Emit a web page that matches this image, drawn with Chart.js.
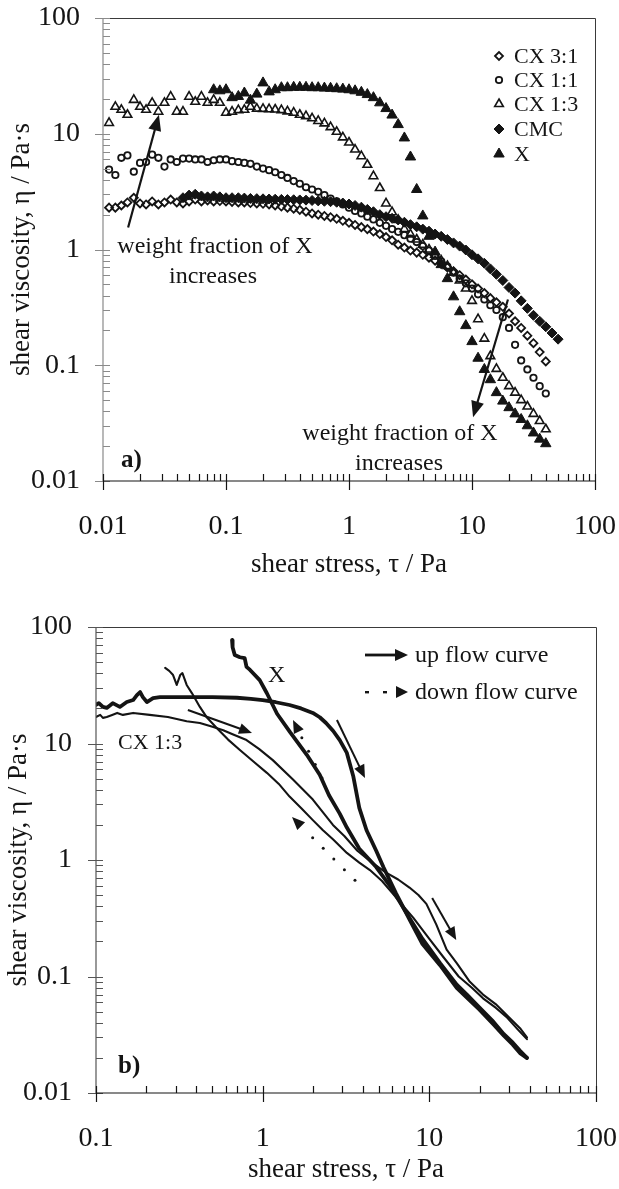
<!DOCTYPE html>
<html>
<head>
<meta charset="utf-8">
<title>shear viscosity vs shear stress</title>
<script src="https://cdn.jsdelivr.net/npm/chart.js@4.4.1/dist/chart.umd.min.js"></script>
<style>
  html, body { margin: 0; padding: 0; background: #fff; }
  canvas { display: block; }
</style>
</head>
<body>
<canvas id="chartA" width="619" height="590"></canvas>
<canvas id="chartB" width="619" height="599"></canvas>
<script>
// ---------- a) flow curves, one marker per measured point ----------
const stressA = [
  0.0100, 0.0112, 0.0126, 0.0141, 0.0158, 0.0178, 0.0200, 0.0224, 0.0251, 0.0282,
  0.0316, 0.0355, 0.0398, 0.0447, 0.0501, 0.0562, 0.0631, 0.0708, 0.0794, 0.0891,
  0.100, 0.112, 0.126, 0.141, 0.158, 0.178, 0.200, 0.224, 0.251, 0.282,
  0.316, 0.355, 0.398, 0.447, 0.501, 0.562, 0.631, 0.708, 0.794, 0.891,
  1.00, 1.12, 1.26, 1.41, 1.58, 1.78, 2.00, 2.24, 2.51, 2.82,
  3.16, 3.55, 3.98, 4.47, 5.01, 5.62, 6.31, 7.08, 7.94, 8.91,
  10.0, 11.2, 12.6, 14.1, 15.8, 17.8, 20.0, 22.4, 25.1, 28.2,
  31.6, 35.5, 39.8, 44.7, 50.1
];
const etaCX31 = [
  null, 2.3, 2.3, 2.4, 2.55, 2.8, 2.5, 2.45, 2.6, 2.45,
  2.55, 2.7, 2.55, 2.5, 2.6, 2.7, 2.6, 2.65, 2.6, 2.62,
  2.6, 2.58, 2.55, 2.55, 2.52, 2.5, 2.48, 2.45, 2.4, 2.35,
  2.3, 2.25, 2.2, 2.12, 2.05, 2.0, 1.95, 1.9, 1.84, 1.77,
  1.7, 1.63, 1.56, 1.5, 1.43, 1.36, 1.28, 1.2, 1.1, 1.04,
  0.98, 0.94, 0.9, 0.85, 0.8, 0.75, 0.70, 0.65, 0.6, 0.55,
  0.5, 0.46, 0.42, 0.38, 0.35, 0.32, 0.28, 0.24, 0.21, 0.18,
  0.155, 0.13, 0.108, null, null
];
const etaCX11 = [
  null, 4.9, 4.4, 6.2, 6.5, 4.7, 5.6, 5.7, 6.6, 6.2,
  5.2, 6.0, 5.7, 6.1, 6.1, 6.0, 6.0, 5.7, 5.9, 6.0,
  6.0, 5.8, 5.7, 5.6, 5.5, 5.2, 5.0, 4.85, 4.65, 4.4,
  4.15, 3.9, 3.7, 3.45, 3.3, 3.15, 2.95, 2.75, 2.6, 2.45,
  2.3, 2.15, 2.05, 1.92, 1.82, 1.7, 1.6, 1.5, 1.42, 1.33,
  1.24, 1.16, 1.07, 0.98, 0.88, 0.79, 0.71, 0.63, 0.56, 0.51,
  0.46, 0.41, 0.37, 0.33, 0.3, 0.26, 0.21, 0.15, 0.11, 0.092,
  0.078, 0.066, 0.057, null, null
];
const etaCX13 = [
  null, 12.4, 17.1, 16.1, 14.6, 19.6, 17.1, 16.1, 18.5, 15.5,
  18.5, 20.9, 15.5, 15.5, 20.9, 18.9, 20.9, 18.5, 19.6, 18.5,
  15.2, 15.5, 16.0, 16.1, 17.1, 16.5, 16.4, 16.3, 16.2, 16.0,
  15.6, 15.2, 14.6, 14.2, 13.6, 12.9, 12.3, 11.4, 10.4, 9.3,
  8.4, 7.3, 6.4, 5.4, 4.3, 3.4, 2.5, 2.1, 1.8, 1.5,
  1.35, 1.22, 1.1, 1.0, 0.9, 0.8, 0.72, 0.63, 0.54, 0.46,
  0.36, 0.25, 0.17, 0.12, 0.093, 0.078, 0.066, 0.058, 0.05, 0.044,
  0.038, 0.033, 0.028, null, null
];
const etaCMC = [
  null, null, null, null, null, null, null, null, null, null,
  null, null, null, 2.8, 2.95, 3.0, 2.9, 2.85, 2.9, 2.85,
  2.8, 2.8, 2.8, 2.78, 2.76, 2.75, 2.74, 2.73, 2.72, 2.71,
  2.7, 2.69, 2.68, 2.67, 2.65, 2.63, 2.61, 2.59, 2.56, 2.52,
  2.47, 2.4, 2.32, 2.22, 2.12, 2.0, 1.92, 1.86, 1.8, 1.72,
  1.64, 1.57, 1.5, 1.44, 1.36, 1.3, 1.22, 1.14, 1.07, 0.99,
  0.9, 0.83, 0.76, 0.68, 0.61, 0.54, 0.47, 0.42, 0.36, 0.31,
  0.27, 0.24, 0.215, 0.19, 0.168
];
const etaX = [
  null, null, null, null, null, null, null, null, null, null,
  null, null, null, null, null, null, null, null, 24, 23.5,
  24, 20.5, 21, 22.5, 19.5, 22, 27.5, 23, 24, 25,
  25, 25.2, 25.2, 25.2, 25, 25, 24.8, 24.7, 24.5, 24.3,
  24, 23.5, 22.8, 21.8, 20.5, 18.5, 16.5, 14.5, 12, 9.2,
  6.3, 3.3, 1.95, 1.3, 0.95, 0.74, 0.56, 0.39, 0.29, 0.22,
  0.16, 0.115, 0.092, 0.075, 0.058, 0.049, 0.043, 0.038, 0.034, 0.03,
  0.026, 0.023, 0.021, null, null
];
const seriesA = ['CX 3:1', 'CX 1:1', 'CX 1:3', 'CMC', 'X'];

// ---------- b) up and down flow curves (continuous records) ----------
const stressXUp = [0.100, 0.104, 0.110, 0.116, 0.126, 0.139, 0.153, 0.167, 0.176, 0.184,
  0.191, 0.202, 0.220, 0.242, 0.266, 0.35, 0.50, 0.70, 0.85, 1.00,
  1.20, 1.45, 1.70, 2.00, 2.20, 2.40, 2.65, 2.90, 3.20, 3.50,
  3.80, 4.20, 4.80, 5.30, 6.30, 7.60, 9.10, 11.6, 14.6, 16.8,
  20.0, 24.2, 28.0, 31.7, 35.0, 38.5];
const etaXUp = [21.5, 22.2, 20.6, 20.2, 22.2, 20.6, 22.7, 23.6, 26.0, 27.6,
  25.0, 22.7, 24.5, 25.0, 25.0, 25.0, 25.0, 24.7, 24.2, 23.6,
  22.6, 21.4, 20.0, 18.3, 16.8, 15.0, 12.8, 10.7, 8.3, 5.2,
  2.8, 1.8, 1.2, 0.87, 0.52, 0.31, 0.19, 0.125, 0.08, 0.066,
  0.052, 0.039, 0.031, 0.026, 0.022, 0.020];
const stressXDown = [0.655, 0.66, 0.68, 0.73, 0.78, 0.80, 0.84, 0.96, 1.06, 1.22,
  1.46, 1.84, 2.2, 2.5, 2.9, 3.2, 3.8, 4.8, 5.8, 7.3,
  9.1, 11.6, 14.6, 16.8, 20.0, 24.2, 28.0, 31.7, 35.0, 38.5];
const etaXDown = [77, 67, 57.5, 55, 54, 45.5, 42.8, 35, 27, 18,
  12.5, 8.0, 5.4, 3.6, 2.5, 1.9, 1.25, 0.87, 0.6, 0.35,
  0.21, 0.13, 0.085, 0.07, 0.054, 0.041, 0.032, 0.027, 0.023, 0.02];
const stressCXUp = [0.100, 0.106, 0.110, 0.116, 0.125, 0.134, 0.145, 0.167, 0.21, 0.27,
  0.35, 0.42, 0.50, 0.58, 0.66, 0.80, 0.95, 1.15, 1.52, 2.0,
  2.64, 3.1, 3.7, 4.4, 5.5, 6.5, 7.6, 8.6, 9.6, 11.0,
  12.7, 14.6, 17.5, 21.0, 25.0, 29.0, 35.0, 38.5];
const etaCXUp = [16.9, 17.6, 16.6, 16.9, 17.6, 18.3, 17.6, 18.3, 17.6, 16.9,
  15.5, 15.0, 13.9, 13.0, 12.0, 10.7, 9.0, 7.2, 4.9, 3.3,
  2.0, 1.6, 1.2, 0.98, 0.78, 0.68, 0.58, 0.5, 0.42, 0.28,
  0.17, 0.13, 0.09, 0.07, 0.058, 0.047, 0.036, 0.030];
const stressCXDown = [0.26, 0.275, 0.29, 0.305, 0.32, 0.33, 0.35, 0.376, 0.42, 0.46,
  0.53, 0.62, 0.73, 0.88, 1.06, 1.25, 1.45, 1.7, 2.0, 2.3,
  2.65, 3.2, 3.8, 4.4, 5.2, 6.0, 7.0, 8.0, 10.0, 12.0,
  15.0, 18.0, 21.0, 25.0, 29.0, 34.0, 38.5];
const etaCXDown = [44.5, 42, 38.7, 31.8, 38.7, 40.2, 31.8, 27.1, 20.6, 16.9,
  13.6, 10.8, 8.8, 7.0, 5.6, 4.5, 3.5, 2.8, 2.2, 1.8,
  1.5, 1.15, 0.95, 0.82, 0.66, 0.52, 0.4, 0.32, 0.21, 0.15,
  0.1, 0.08, 0.065, 0.054, 0.045, 0.035, 0.029];

// decade tick labels
const etaDecades = [0.01, 0.1, 1, 10, 100];
const stressDecadesA = [0.01, 0.1, 1, 10, 100];
const stressDecadesB = [0.1, 1, 10, 100];

const INK = '#141414';
const SERIF = '"Liberation Serif", "Times New Roman", serif';

const pts = (xs, ys) => xs.map((x, i) => ({ x, y: ys[i] })).filter(p => p.y != null);

function decadeLabel(decades) {
  return v => {
    const d = decades.find(d => Math.abs(Math.log10(v / d)) < 1e-6);
    return d === undefined ? '' : String(d);
  };
}

// log scale with fixed box size so the plot area lands where the figure has it
function logAxis(min, max, decades, title, o) {
  return {
    type: 'logarithmic', min, max,
    grid: { display: false, drawTicks: false },
    border: { display: false },
    ticks: {
      autoSkip: false, maxRotation: 0, minRotation: 0,
      padding: o.pad, color: INK,
      font: { family: SERIF, size: 28 },
      callback: decadeLabel(decades)
    },
    title: {
      display: true, text: title, color: INK,
      font: { family: SERIF, size: 27 },
      padding: o.titlePad
    },
    afterFit(scale) {
      if (o.width) scale.width = o.width;
      if (o.height) scale.height = o.height;
      scale.paddingLeft = scale.paddingRight = scale.paddingTop = scale.paddingBottom = 0;
    }
  };
}

// minor ticks point inwards, decade ticks go both ways
function decadeValues(min, max) {
  const out = [];
  for (let e = Math.floor(Math.log10(min)); e <= Math.ceil(Math.log10(max)); e++) {
    for (let m = 1; m <= 9; m++) {
      const v = m * Math.pow(10, e);
      if (v >= min * 0.999 && v <= max * 1.001) out.push({ v, major: m === 1 });
    }
  }
  return out;
}

const axesBox = {
  id: 'axesBox',
  afterDraw(chart, _args, o) {
    const { ctx, chartArea: a, scales: { x, y } } = chart;
    ctx.save();
    ctx.lineCap = 'butt';
    ctx.strokeStyle = o.frame;
    ctx.lineWidth = 1;
    ctx.beginPath();
    ctx.moveTo(a.left, a.top + 0.5);
    ctx.lineTo(a.right + 0.5, a.top + 0.5);
    ctx.lineTo(a.right + 0.5, a.bottom);
    ctx.stroke();

    ctx.strokeStyle = o.yColor;
    ctx.lineWidth = 1.2;
    ctx.beginPath();
    ctx.moveTo(a.left, a.top);
    ctx.lineTo(a.left, a.bottom);
    decadeValues(y.min, y.max).forEach(t => {
      const py = Math.round(y.getPixelForValue(t.v)) + 0.5;
      ctx.moveTo(a.left - (t.major ? 8 : 0), py);
      ctx.lineTo(a.left + 7, py);
    });
    ctx.stroke();

    ctx.strokeStyle = INK;
    ctx.beginPath();
    ctx.moveTo(a.left, a.bottom);
    ctx.lineTo(a.right, a.bottom);
    decadeValues(x.min, x.max).forEach(t => {
      const px = Math.round(x.getPixelForValue(t.v)) + 0.5;
      ctx.moveTo(px, a.bottom + (t.major ? 9 : 0));
      ctx.lineTo(px, a.bottom - 7);
    });
    ctx.stroke();
    ctx.restore();
  }
};

function drawArrow(ctx, p0, p1, o) {
  const [x0, y0] = p0, [x1, y1] = p1;
  const ang = Math.atan2(y1 - y0, x1 - x0);
  const c = Math.cos(ang), s = Math.sin(ang);
  const bx = x1 - o.head * c, by = y1 - o.head * s;
  if (o.dotted) {
    const len = Math.hypot(bx - x0, by - y0);
    for (let d = 0; d < len - 6; d += o.gap) {
      ctx.beginPath();
      ctx.arc(x0 + d * c, y0 + d * s, 1.5, 0, Math.PI * 2);
      ctx.fill();
    }
  } else {
    ctx.lineWidth = o.lw;
    ctx.beginPath();
    ctx.moveTo(x0, y0);
    ctx.lineTo(bx + 2 * c, by + 2 * s);
    ctx.stroke();
  }
  ctx.beginPath();
  ctx.moveTo(x1, y1);
  ctx.lineTo(bx + o.half * s, by - o.half * c);
  ctx.lineTo(bx - o.half * s, by + o.half * c);
  ctx.closePath();
  ctx.fill();
}

function marker(ctx, ds, x, y) {
  ctx.fillStyle = ds.backgroundColor;
  ctx.strokeStyle = ds.borderColor;
  ctx.lineWidth = ds.borderWidth;
  Chart.helpers.drawPoint(ctx, {
    pointStyle: ds.pointStyle, radius: ds.pointRadius,
    borderWidth: ds.borderWidth, rotation: 0
  }, x, y);
}

const panelA = {
  id: 'panelA',
  afterDraw(chart) {
    const { ctx, scales: { x, y } } = chart;
    const P = (sx, sy) => [x.getPixelForValue(sx), y.getPixelForValue(sy)];
    ctx.save();
    ctx.fillStyle = INK;
    ctx.strokeStyle = INK;
    drawArrow(ctx, P(0.016, 1.55), P(0.0285, 14.6), { lw: 2.2, head: 16, half: 6.5 });
    drawArrow(ctx, P(19.6, 0.37), P(10.2, 0.0356), { lw: 2.2, head: 16, half: 6.5 });

    ctx.fillStyle = INK;
    ctx.font = '24px ' + SERIF;
    ctx.textAlign = 'center';
    ctx.textBaseline = 'alphabetic';
    ctx.fillText('weight fraction of X', 215, 253);
    ctx.fillText('increases', 213, 283);
    ctx.fillText('weight fraction of X', 400, 440);
    ctx.fillText('increases', 399, 470);
    ctx.textAlign = 'left';
    ctx.font = 'bold 25px ' + SERIF;
    ctx.fillText('a)', 121, 467);

    const rows = [63, 87, 111, 136, 161];
    chart.data.datasets.forEach((ds, i) => {
      marker(ctx, ds, 499, rows[i] - 7);
      ctx.fillStyle = INK;
      ctx.font = '22px ' + SERIF;
      ctx.fillText(seriesA[i], 514, rows[i]);
    });
    ctx.restore();
  }
};

const panelB = {
  id: 'panelB',
  afterDraw(chart) {
    const { ctx, scales: { x, y } } = chart;
    const P = (sx, sy) => [x.getPixelForValue(sx), y.getPixelForValue(sy)];
    ctx.save();
    ctx.fillStyle = INK;
    ctx.strokeStyle = INK;
    const solid = { lw: 2, head: 13, half: 5.5 };
    const dots = { dotted: true, gap: 15, head: 13, half: 5.5 };
    drawArrow(ctx, P(0.356, 19.4), P(0.863, 12.3), solid);
    drawArrow(ctx, P(2.79, 15.9), P(4.11, 5.06), solid);
    drawArrow(ctx, P(10.4, 0.472), P(14.5, 0.206), solid);
    drawArrow(ctx, P(2.27, 5.06), P(1.52, 15.9), dots);
    drawArrow(ctx, P(3.58, 0.67), P(1.5, 2.34), dots);

    // legend
    drawArrow(ctx, [365, 65], [408, 65], { lw: 2.8, head: 13, half: 6 });
    ctx.fillRect(365, 101, 4, 2.4);
    ctx.fillRect(383, 101, 4, 2.4);
    drawArrow(ctx, [396, 102], [408, 102], { dotted: true, gap: 100, head: 12, half: 6 });
    ctx.font = '24px ' + SERIF;
    ctx.textAlign = 'left';
    ctx.textBaseline = 'alphabetic';
    ctx.fillText('up flow curve', 415, 72);
    ctx.fillText('down flow curve', 415, 109);

    ctx.fillText('X', 268, 92);
    ctx.font = '22px ' + SERIF;
    ctx.fillText('CX 1:3', 118, 159);
    ctx.font = 'bold 25px ' + SERIF;
    ctx.fillText('b)', 118, 483);
    ctx.restore();
  }
};

const common = {
  responsive: false,
  animation: false,
  events: [],
  devicePixelRatio: 1,
  plugins: { legend: { display: false }, tooltip: { enabled: false } }
};

const openMark = (style, r, bw) => ({
  pointStyle: style, pointRadius: r, borderWidth: bw,
  borderColor: INK, backgroundColor: 'rgba(255,255,255,0)'
});
const fullMark = (style, r) => ({
  pointStyle: style, pointRadius: r, borderWidth: 1,
  borderColor: INK, backgroundColor: INK
});

new Chart(document.getElementById('chartA'), {
  type: 'scatter',
  data: {
    datasets: [
      { label: seriesA[0], data: pts(stressA, etaCX31), ...openMark('rectRot', 4, 1.8) },
      { label: seriesA[1], data: pts(stressA, etaCX11), ...openMark('circle', 3.2, 1.8) },
      { label: seriesA[2], data: pts(stressA, etaCX13), ...openMark('triangle', 5, 1.6) },
      { label: seriesA[3], data: pts(stressA, etaCMC), ...fullMark('rectRot', 5) },
      { label: seriesA[4], data: pts(stressA, etaX), ...fullMark('triangle', 6) }
    ]
  },
  options: {
    ...common,
    layout: { padding: { left: 0, top: 18, right: 24, bottom: 0 } },
    scales: {
      x: logAxis(0.01, 100, stressDecadesA, 'shear stress, \u03c4 / Pa',
        { pad: 29, titlePad: { top: 0, bottom: 9 }, height: 109 }),
      y: logAxis(0.01, 100, etaDecades, 'shear viscosity, \u03b7 / Pa\u00b7s',
        { pad: 23, titlePad: { top: 6, bottom: 0 }, width: 103 })
    },
    plugins: { ...common.plugins, axesBox: { frame: '#3a3a3a', yColor: '#8a8a8a' } }
  },
  plugins: [axesBox, panelA]
});

const lineSet = (xs, ys, w) => ({
  data: pts(xs, ys), showLine: true, pointRadius: 0,
  borderColor: INK, borderWidth: w, tension: 0,
  borderJoinStyle: 'round', borderCapStyle: 'round'
});

new Chart(document.getElementById('chartB'), {
  type: 'scatter',
  data: {
    datasets: [
      { label: 'X up', ...lineSet(stressXUp, etaXUp, 3.8) },
      { label: 'X down', ...lineSet(stressXDown, etaXDown, 3.8) },
      { label: 'CX 1:3 up', ...lineSet(stressCXUp, etaCXUp, 2.1) },
      { label: 'CX 1:3 down', ...lineSet(stressCXDown, etaCXDown, 2.1) }
    ]
  },
  options: {
    ...common,
    layout: { padding: { left: 0, top: 37, right: 23, bottom: 0 } },
    scales: {
      x: logAxis(0.1, 100, stressDecadesB, 'shear stress, \u03c4 / Pa',
        { pad: 29, titlePad: { top: 0, bottom: 3 }, height: 96 }),
      y: logAxis(0.01, 100, etaDecades, 'shear viscosity, \u03b7 / Pa\u00b7s',
        { pad: 24, titlePad: { top: 3, bottom: 0 }, width: 96 })
    },
    plugins: { ...common.plugins, axesBox: { frame: '#3a3a3a', yColor: '#555' } }
  },
  plugins: [axesBox, panelB]
});
</script>
</body>
</html>
